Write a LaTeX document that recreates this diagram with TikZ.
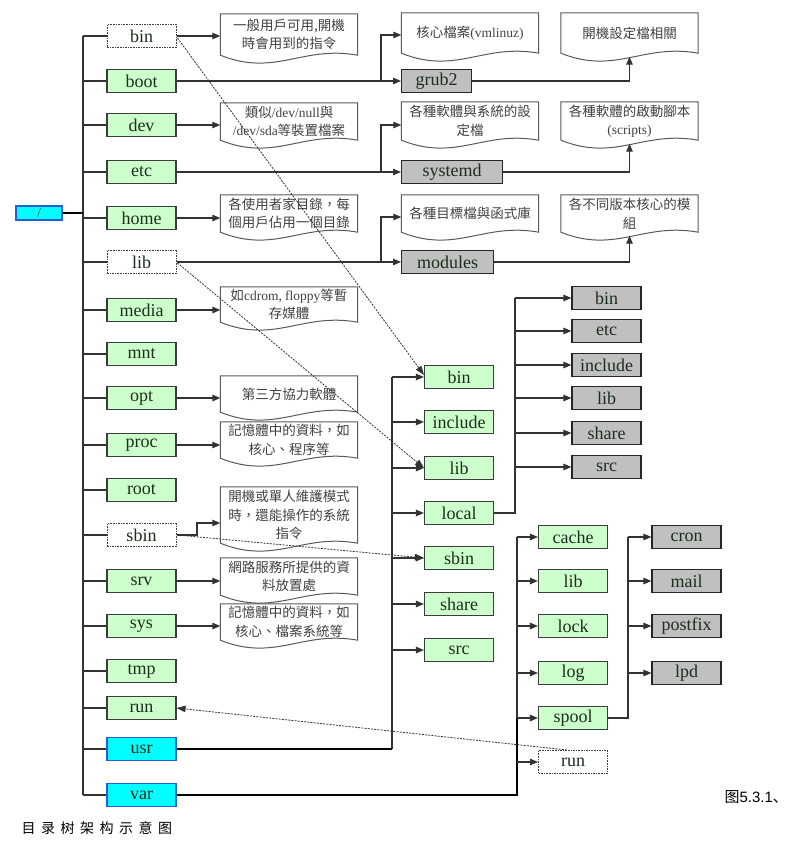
\documentclass[tikz,border=0pt]{standalone}
\usepackage{fontspec}
\setmainfont{Liberation Serif}
\newfontfamily\cjk{Noto Sans CJK TC}
\newfontfamily\cjksc{Noto Sans CJK SC}
\newfontfamily\arialf{Liberation Sans}
\usetikzlibrary{arrows.meta,calc}
\definecolor{boxgreen}{HTML}{CCFFCC}
\definecolor{boxgray}{HTML}{C0C0C0}
\definecolor{boxcyan}{HTML}{00FFFF}
\definecolor{cyanedge}{HTML}{2A5BD0}
\definecolor{edgegray}{HTML}{3C3C3C}
\definecolor{dirtext}{HTML}{1C2E1C}
\newcommand\zh[1]{{\cjk #1}}
\newcommand\docfont{\fontsize{13.5}{18.5}\selectfont}
\newcommand\docshape[1]{%
  \draw[docline] (#1.south west) -- (#1.north west) -- (#1.north east) -- (#1.south east)
    .. controls ($(#1.south west)+(82,-10)$) and ($(#1.south west)+(55,22)$) .. (#1.south west) -- cycle;}
\newcommand\mydoc[5]{%
  \node[docn, minimum height=#4pt] (#1) at (#2,#3) {#5};
  \docshape{#1}}
\tikzset{
  dirbox/.style={rectangle, minimum width=69pt, minimum height=23pt, inner sep=0pt,
    font=\fontsize{18}{20}\selectfont, text=dirtext, line width=1.1pt},
  gbox/.style={dirbox, fill=boxgreen, draw=edgegray},
  dbox/.style={dirbox, fill=white, draw=edgegray, dash pattern=on 1.6pt off 1pt, line width=1pt},
  sbox/.style={dirbox, fill=boxgray, draw=black!85},
  cbox/.style={dirbox, fill=boxcyan, draw=cyanedge},
  docn/.style={rectangle, minimum width=137pt, inner sep=0pt, align=center, font=\docfont, text=black!75},
  docline/.style={draw=black!65, line width=1pt},
  link/.style={draw=black!80, line width=1.1pt},
  thicklink/.style={draw=black, line width=2.2pt},
  arr/.style={link, -{Triangle[length=8pt,width=6.5pt]}},
  dashl/.style={draw=black!80, line width=0.8pt, dash pattern=on 2pt off 1.2pt, -{Triangle[length=9pt,width=6.5pt]}},
}
\begin{document}
\begin{tikzpicture}[x=1pt,y=-1pt]
\useasboundingbox (0,0) rectangle (803,845);

% root and left column
\node[cbox, minimum width=46pt, minimum height=14pt, font=\fontsize{14}{14}\selectfont] (root) at (39,213) {/};
\coordinate (tr) at (83,0);
\node[dbox] (lbin) at (141.5,36) {bin};
\node[gbox] (lboot) at (141.5,81) {boot};
\node[gbox] (ldev) at (141.5,125) {dev};
\node[gbox] (letc) at (141.5,172) {etc};
\node[gbox] (lhome) at (141.5,218) {home};
\node[dbox] (llib) at (141.5,262) {lib};
\node[gbox] (lmedia) at (141.5,310) {media};
\node[gbox] (lmnt) at (141.5,354) {mnt};
\node[gbox] (lopt) at (141.5,398) {opt};
\node[gbox] (lproc) at (141.5,445) {proc};
\node[gbox] (lroot) at (141.5,490) {root};
\node[dbox] (lsbin) at (141.5,535) {sbin};
\node[gbox] (lsrv) at (141.5,581) {srv};
\node[gbox] (lsys) at (141.5,626) {sys};
\node[gbox] (ltmp) at (141.5,671) {tmp};
\node[gbox] (lrun) at (141.5,708) {run};
\node[cbox] (lusr) at (141.5,749) {usr};
\node[cbox] (lvar) at (141.5,795) {var};

\draw[link] (tr |- lbin.west) -- (tr |- lvar.west);
\draw[thicklink] (root.east) -- (tr |- root.east);
\foreach \n in {lbin,lboot,ldev,letc,lhome,llib,lmedia,lmnt,lopt,lproc,lroot,lsbin,lsrv,lsys,ltmp,lrun,lusr,lvar}
  \draw[link] (tr |- \n.west) -- (\n.west);

% left documents
\mydoc{dbin}{289}{34.5}{41}{\zh{一般用戶可用,開機}\\\zh{時會用到的指令}}
\mydoc{ddev}{289}{121.5}{37}{\zh{類似}/dev/null\zh{與}\\/dev/sda\zh{等裝置檔案}}
\mydoc{dhome}{289}{213.5}{37}{\zh{各使用者家目錄，每}\\\zh{個用戶佔用一個目錄}}
\mydoc{dmedia}{289}{304.5}{35}{\zh{如}cdrom, floppy\zh{等暫}\\\zh{存媒體}}
\mydoc{dopt}{289}{394}{36}{\zh{第三方協力軟體}}
\mydoc{dproc}{289}{440}{36}{\zh{記憶體中的資料，如}\\\zh{核心、程序等}}
\mydoc{dsbin}{289}{515}{56}{\zh{開機或單人維護模式}\\\zh{時，還能操作的系統}\\\zh{指令}}
\mydoc{dsrv}{289}{576.5}{37}{\zh{網路服務所提供的資}\\\zh{料放置處}}
\mydoc{dsys}{289}{622}{36}{\zh{記憶體中的資料，如}\\\zh{核心、檔案系統等}}

\foreach \a/\b in {lbin/dbin,ldev/ddev,lhome/dhome,lmedia/dmedia,lopt/dopt,lproc/dproc,lsrv/dsrv,lsys/dsys}
  \draw[arr] (\a.east) -- (\a.east -| \b.west);
\draw[arr] (lsbin.east) -- (197,535) -- (197,523) -- (dsbin.west |- 0,523);

% right top documents and gray boxes
\mydoc{dkern}{470}{33}{40}{\zh{核心檔案}(vmlinuz)}
\mydoc{dgrub}{629.5}{33}{40}{\zh{開機設定檔相關}}
\mydoc{detc}{470}{121}{38}{\zh{各種軟體與系統的設}\\\zh{定檔}}
\mydoc{dscr}{629.5}{121}{38}{\zh{各種軟體的啟動腳本}\\(scripts)}
\mydoc{dlib}{470}{213.5}{37}{\zh{各種目標檔與函式庫}}
\mydoc{dmod}{629.5}{213.5}{37}{\zh{各不同版本核心的模}\\\zh{組}}

\node[sbox, minimum width=70pt, anchor=west] (grub) at (401,81) {grub2};
\node[sbox, minimum width=101pt, anchor=west] (systemd) at (401,172) {systemd};
\node[sbox, minimum width=92pt, anchor=west] (modules) at (401,262) {modules};

\coordinate (bj1) at (381,81);
\coordinate (bj2) at (381,172);
\coordinate (bj3) at (381,262);
\draw[arr] (lboot.east) -- (grub.west);
\draw[arr] (bj1) |- ($(dkern.west)+(0,2)$);
\draw[arr] (letc.east) -- (systemd.west);
\draw[arr] (bj2) |- ($(detc.west)+(0,4)$);
\draw[arr] (llib.east) -- (modules.west);
\draw[arr] (bj3) |- ($(dlib.west)+(0,3.5)$);
\draw[arr] (grub.east) -| ($(dgrub.south)+(0,3.5)$);
\draw[arr] (systemd.east) -| ($(dscr.south)+(0,3.5)$);
\draw[arr] (modules.east) -| ($(dmod.south)+(0,3.5)$);

% usr subtree
\node[gbox] (ubin) at (459,377) {bin};
\node[gbox] (uinc) at (459,422) {include};
\node[gbox] (ulib) at (459,468) {lib};
\node[gbox] (uloc) at (459,513) {local};
\node[gbox] (usbin) at (459,558) {sbin};
\node[gbox] (ushare) at (459,604) {share};
\node[gbox] (usrc) at (459,650) {src};
\coordinate (ut) at (392,377);
\draw[thicklink] (lusr.east) -- (lusr.east -| ut);
\draw[link] (lusr.east -| ut) -- (ut);
\draw[arr] (ut) -- (ubin.west);
\foreach \n in {uinc,ulib,uloc,usbin,ushare,usrc}
  \draw[arr] (ut |- \n.west) -- (\n.west);

% local subtree
\node[sbox] (lcbin) at (606.5,298) {bin};
\node[sbox] (lcetc) at (606.5,331) {etc};
\node[sbox] (lcinc) at (606.5,365) {include};
\node[sbox] (lclib) at (606.5,398) {lib};
\node[sbox] (lcshare) at (606.5,433) {share};
\node[sbox] (lcsrc) at (606.5,467) {src};
\coordinate (lt) at (515,298);
\draw[link] (uloc.east) -| (lt);
\draw[arr] (lt) -- (lcbin.west);
\foreach \n in {lcetc,lcinc,lclib,lcshare,lcsrc}
  \draw[arr] (lt |- \n.west) -- (\n.west);

% var subtree
\node[gbox] (vcache) at (573,537) {cache};
\node[gbox] (vlib) at (573,581) {lib};
\node[gbox] (vlock) at (573,626) {lock};
\node[gbox] (vlog) at (573,673) {log};
\node[gbox] (vspool) at (573,718) {spool};
\node[dbox] (vrun) at (573,762) {run};
\coordinate (vt) at (517,537);
\draw[thicklink] (lvar.east) -- (lvar.east -| vt) -- (vt |- vspool.west);
\draw[link] (vt |- vspool.west) -- (vt);
\draw[arr] (vt) -- (vcache.west);
\foreach \n in {vlib,vlock,vlog,vspool,vrun}
  \draw[arr] (vt |- \n.west) -- (\n.west);

% spool subtree
\node[sbox] (scron) at (686.5,537) {cron};
\node[sbox] (smail) at (686.5,581) {mail};
\node[sbox] (spostfix) at (686.5,626) {postfix};
\node[sbox] (slpd) at (686.5,673) {lpd};
\coordinate (st) at (628,537);
\draw[link] (vspool.east) -| (st);
\draw[arr] (st) -- (scron.west);
\foreach \n in {smail,spostfix,slpd}
  \draw[arr] (st |- \n.west) -- (\n.west);

% dashed links
\draw[dashl] ($(lbin.east)+(1,2)$) -- ($(ubin.west)+(0,-2)$);
\draw[dashl] ($(llib.east)+(1,1)$) -- (ulib.west);
\draw[dashl] ($(lsbin.east)+(1,0)$) -- (usbin.west);
\draw[dashl] ($(vrun.north)+(-6,0)$) -- (lrun.east);

% captions
\node[anchor=west, font=\fontsize{15}{15}\selectfont] (cap1) at (721,797) {{\cjksc 图}{\arialf 5.3.1}{\cjksc 、}};
\node[anchor=west, font=\fontsize{14}{14}\selectfont] (cap2) at (18,828) {\cjksc 目\hspace{5.5pt}录\hspace{5.5pt}树\hspace{5.5pt}架\hspace{5.5pt}构\hspace{5.5pt}示\hspace{5.5pt}意\hspace{5.5pt}图};
\end{tikzpicture}
\end{document}
